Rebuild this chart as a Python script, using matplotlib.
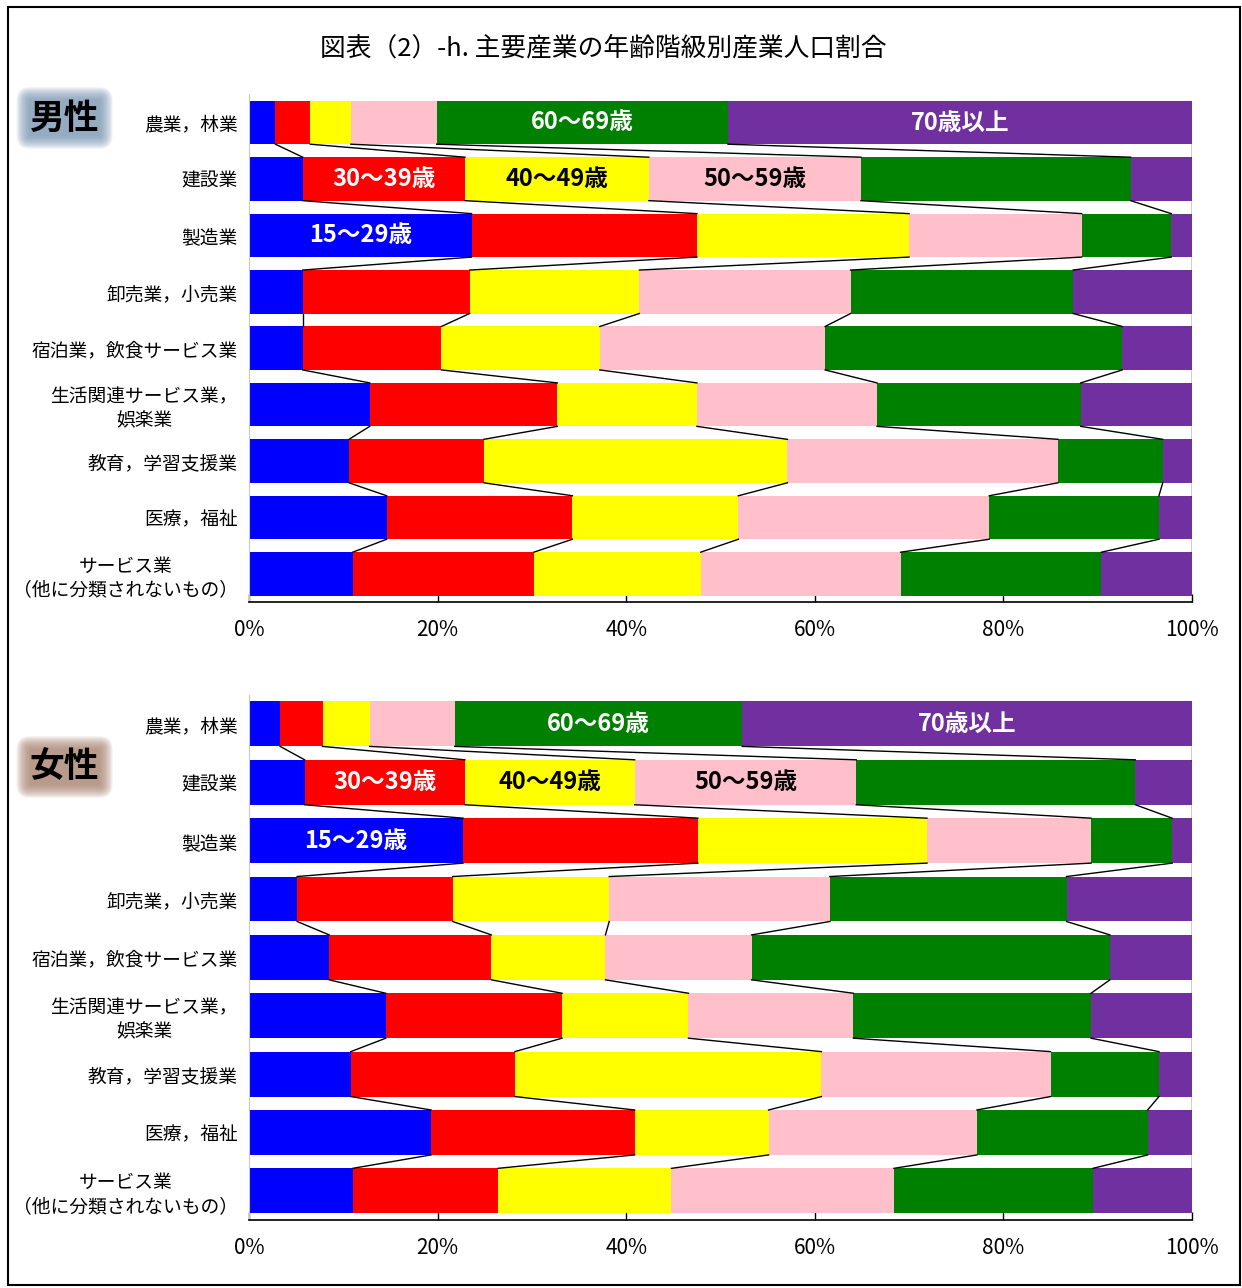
import matplotlib
matplotlib.use('Agg')
import matplotlib.pyplot as plt
from matplotlib.patches import Rectangle
import numpy as np

plt.rcParams['font.family'] = ['Noto Sans CJK JP', 'DejaVu Sans']

title = '図表（2）-h. 主要産業の年齢階級別産業人口割合'
industries = ['農業，林業', '建設業', '製造業', '卸売業，小売業', '宿泊業，飲食サービス業',
              '生活関連サービス業，\n娯楽業', '教育，学習支援業', '医療，福祉',
              'サービス業\n（他に分類されないもの）']
age_groups = ['15～29歳', '30～39歳', '40～49歳', '50～59歳', '60～69歳', '70歳以上']
colors = ['#0000FF', '#FF0000', '#FFFF00', '#FFC0CB', '#008000', '#7030A0']

# shares (%) by age group, per industry
male = [
    [2.8, 3.7, 4.3, 9.1, 30.9, 49.2],
    [5.7, 17.2, 19.5, 22.5, 28.6, 6.5],
    [23.6, 23.9, 22.5, 18.3, 9.5, 2.2],
    [5.7, 17.7, 18.0, 22.4, 23.6, 12.6],
    [5.7, 14.7, 16.8, 23.9, 31.5, 7.4],
    [12.8, 19.9, 14.8, 19.1, 21.6, 11.8],
    [10.6, 14.3, 32.2, 28.7, 11.1, 3.1],
    [14.6, 19.7, 17.6, 26.6, 18.0, 3.5],
    [11.0, 19.2, 17.7, 21.2, 21.3, 9.6],
]
female = [
    [3.3, 4.5, 5.0, 9.0, 30.5, 47.7],
    [5.9, 17.0, 18.0, 23.5, 29.6, 6.0],
    [22.7, 24.9, 24.3, 17.4, 8.6, 2.1],
    [5.1, 16.5, 16.6, 23.4, 25.1, 13.3],
    [8.5, 17.2, 12.1, 15.5, 38.0, 8.7],
    [14.5, 18.7, 13.4, 17.5, 25.2, 10.7],
    [10.8, 17.4, 32.5, 24.3, 11.5, 3.5],
    [19.3, 21.6, 14.2, 22.1, 18.1, 4.7],
    [11.0, 15.4, 18.4, 23.6, 21.1, 10.5],
]
# where the age group names are written: (row, age group index)
label_spots = [(0, 4), (0, 5), (1, 1), (1, 2), (1, 3), (2, 0)]
label_colors = ['white', 'white', 'white', 'black', 'black', 'white']


def draw_panel(ax, data, sex_label, sex_y, glow):
    vals = np.array(data)
    cum = np.cumsum(vals, axis=1)
    left = cum - vals
    y = np.arange(len(industries))
    h = 0.77
    for k in range(len(age_groups)):
        ax.barh(y, vals[:, k], left=left[:, k], height=h, color=colors[k],
                edgecolor='none', zorder=2)
    # connector lines between bars
    for i in range(len(industries) - 1):
        for k in range(len(age_groups)):
            ax.plot([cum[i, k], cum[i + 1, k]], [y[i] + h / 2, y[i + 1] - h / 2],
                    color='black', lw=1.0, zorder=3)
    for (r, k), c in zip(label_spots, label_colors):
        ax.text(left[r, k] + vals[r, k] / 2, y[r], age_groups[k], ha='center',
                va='center', fontsize=17, fontweight='bold', color=c, zorder=4)
    ax.set_xlim(0, 100)
    ax.set_ylim(len(industries) - 0.5, -0.5)
    ax.set_yticks(y)
    ax.set_yticklabels(industries, fontsize=13.5)
    for t in ax.get_yticklabels():
        t.set_multialignment('center')
    ax.tick_params(axis='y', length=0, pad=8)
    ax.set_xticks(np.arange(0, 101, 20))
    ax.set_xticklabels([f'{v}%' for v in range(0, 101, 20)], fontsize=15)
    ax.tick_params(axis='x', direction='in', length=6, width=1, pad=12)
    ax.spines['top'].set_visible(False)
    ax.spines['right'].set_visible(False)
    ax.spines['left'].set_color('#c8c8c8')
    ax.spines['bottom'].set_linewidth(1.2)
    # soft blurred glow behind the sex label
    for pad in np.linspace(0.02, 0.38, 10):
        fig.text(0.052, sex_y, sex_label, fontsize=25, fontweight='bold', color='none',
                 ha='center', va='center',
                 bbox=dict(boxstyle=f'round,pad={pad:.3f}', fc=glow, ec='none', alpha=0.14))
    fig.text(0.052, sex_y, sex_label, fontsize=25, fontweight='bold', color='black',
             ha='center', va='center')


fig = plt.figure(figsize=(12.42, 12.88), dpi=100)
ax1 = fig.add_axes([0.2005, 0.5325, 0.7592, 0.3943])
ax2 = fig.add_axes([0.2005, 0.0528, 0.7592, 0.4078])

draw_panel(ax1, male, '男性', 1 - 118 / 1288, '#7b96b2')
draw_panel(ax2, female, '女性', 1 - 767 / 1288, '#a98270')

fig.text(0.4855, 1 - 48 / 1288, title, ha='center', va='center', fontsize=18.5)
fig.patches.append(Rectangle((8 / 1242, 3 / 1288), 1232 / 1242, 1278 / 1288,
                             transform=fig.transFigure, fill=False, ec='black', lw=1.5))

fig.savefig('out.png', dpi=100)
plt.close(fig)
